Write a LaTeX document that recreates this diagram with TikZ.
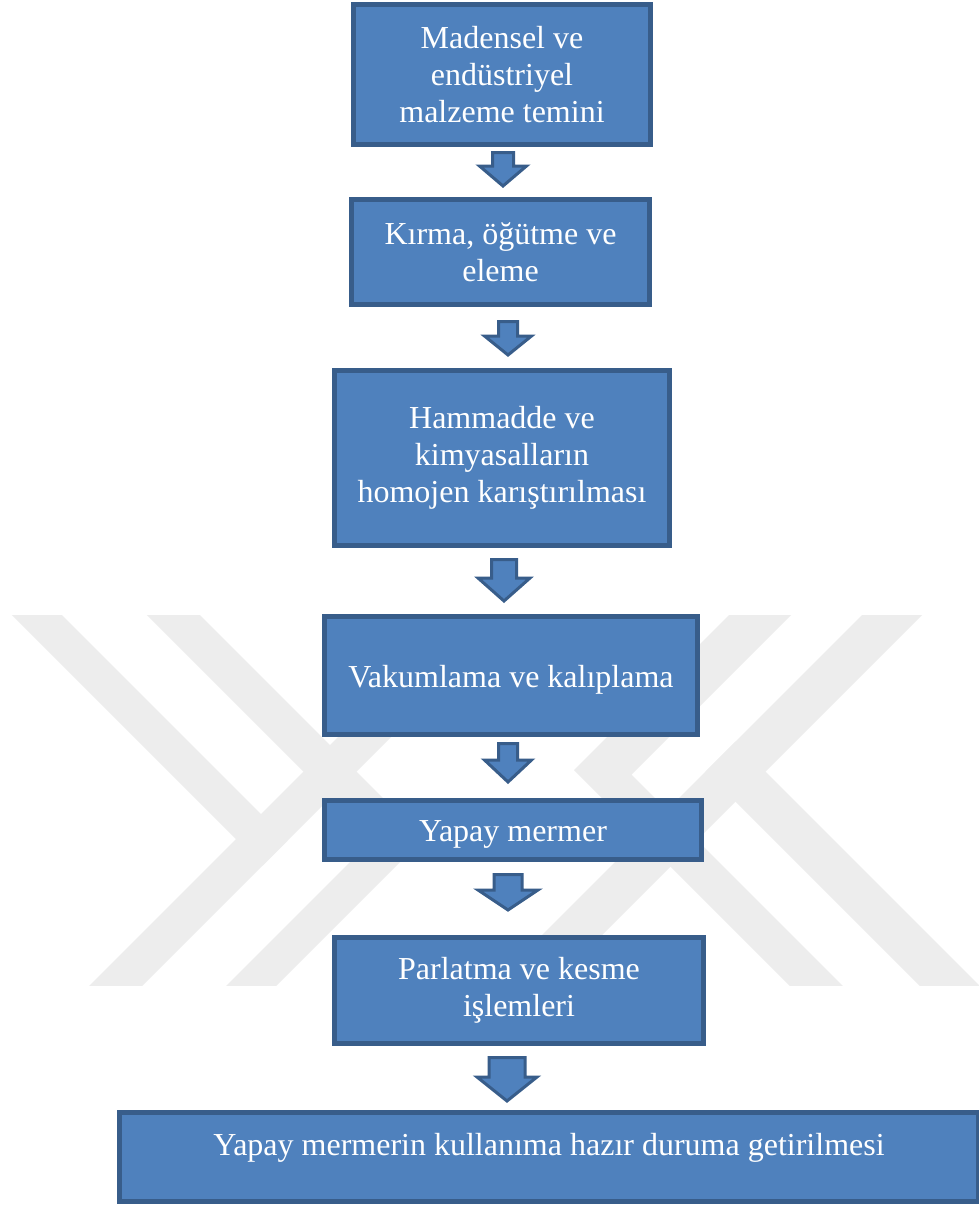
\documentclass[tikz,border=0pt]{standalone}
\usepackage{fontspec}
\setmainfont{Liberation Serif}
\definecolor{boxfill}{HTML}{4F81BD}
\definecolor{boxline}{HTML}{385D8A}
\definecolor{wmgray}{RGB}{237,237,237}
\tikzset{
  flowbox/.style={draw=boxline, fill=boxfill, line width=2.5pt, text=white,
    inner sep=0pt, align=center, font=\fontsize{16}{18.4}\selectfont},
  oneline/.style={text height=12.5pt, text depth=1pt},
  flowtext/.style={text=white, inner sep=0pt, font=\fontsize{16}{18.4}\selectfont},
  blockarrow/.style={draw=boxline, fill=boxfill, line width=1.5pt, line join=miter},
  wmstripe/.style={fill=wmgray, draw=none}
}
% name, cx, top, head start, tip, shaft half width, head half width
\newcommand\downblock[7]{%
  \coordinate (#1) at (#2,#3);
  \filldraw[blockarrow] (#2-#6,#3) -- (#2+#6,#3) -- (#2+#6,#4) -- (#2+#7,#4)
    -- (#2,#5) -- (#2-#7,#4) -- (#2-#6,#4) -- cycle;}
\begin{document}
\begin{tikzpicture}[x=0.5pt,y=-0.5pt]
\useasboundingbox (0,0) rectangle (979,1205);
\fill[white] (0,0) rectangle (979,1205);
% watermark
\begin{scope}
\clip (0,615) rectangle (979,985);
\fill[wmstripe] (-3,600) -- (47,600) -- (287.5,840.5) -- (262.5,865.5) -- cycle;
\fill[wmstripe] (75,1000) -- (128,1000) -- (528,600) -- (475,600) -- cycle;
\fill[wmstripe] (132,600) -- (185,600) -- (423.5,838.5) -- (262,1000) -- (212,1000) -- (372,840) -- cycle;
\fill[wmstripe] (877,600) -- (937,600) -- (537,1000) -- (477,1000) -- cycle;
\fill[wmstripe] (934,1000) -- (994,1000) -- (735.5,741.5) -- (705.5,771.5) -- cycle;
\fill[wmstripe] (744,600) -- (806,600) -- (631.5,774.5) -- (857,1000) -- (804,1000) -- (574,770) -- cycle;
\end{scope}
% boxes
\node[flowbox, minimum width=148.5pt, minimum height=70pt] (b1) at (502,74.5)
  {Madensel ve\\endüstriyel\\malzeme temini};
\node[flowbox, minimum width=149pt, minimum height=52.5pt] (b2) at (500.5,252)
  {Kırma, öğütme ve\\eleme};
\node[flowbox, minimum width=167.5pt, minimum height=87.5pt] (b3) at (502,458)
  {Hammadde ve\\kimyasalların\\homojen karıştırılması};
\node[flowbox, oneline, minimum width=186.5pt, minimum height=59pt] (b4) at (511,675.5)
  {Vakumlama ve kalıplama};
\node[flowbox, oneline, minimum width=188.5pt, minimum height=29.5pt] (b5) at (513,830)
  {Yapay mermer};
\node[flowbox, minimum width=184.5pt, minimum height=53pt] (b6) at (519,990.5)
  {Parlatma ve kesme\\işlemleri};
\node[flowbox, minimum width=429.5pt, minimum height=44.5pt] (b7) at (549,1157) {};
\node[flowtext, anchor=base] (t7) at (549,1155)
  {Yapay mermerin kullanıma hazır duruma getirilmesi};
% block arrows
\downblock{a1}{503}{152.5}{166}{186}{10.5}{23.5}
\downblock{a2}{508}{321.5}{336}{355}{9.5}{23.5}
\downblock{a3}{504}{559.5}{578}{601}{12.5}{26}
\downblock{a4}{508}{743.5}{760}{782}{9.5}{23.5}
\downblock{a5}{508}{874.5}{890}{910}{14}{30}
\downblock{a6}{507}{1057.5}{1077}{1101}{18}{30}
\end{tikzpicture}
\end{document}
